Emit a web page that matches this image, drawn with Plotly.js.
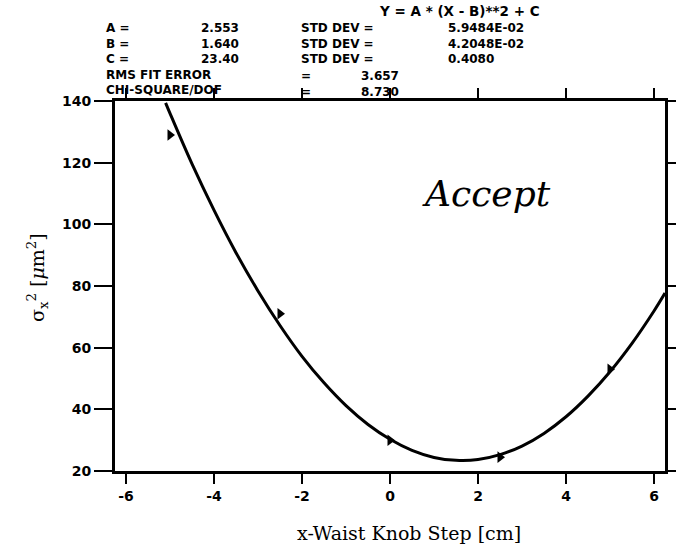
<!DOCTYPE html>
<html>
<head>
<meta charset="utf-8">
<script src="https://cdn.plot.ly/plotly-3.0.1.min.js"></script>
<style>html,body{margin:0;padding:0;background:#fff;}#chart{width:676px;height:554px;}</style>
</head>
<body>
<div id="chart"></div>
<script>
// Fit curve values
var curveX = [-5.1, -5.0, -4.5, -4.0, -3.5, -3.0, -2.5, -2.0, -1.5, -1.0, -0.5, 0.0, 0.5, 1.0, 1.5, 2.0, 2.5, 3.0, 3.5, 4.0, 4.5, 5.0, 5.5, 6.0, 6.25];
var curveY = [139.4, 136.0, 119.6, 104.6, 90.8, 78.4, 67.2, 57.2, 48.6, 41.2, 35.1, 30.3, 26.7, 24.4, 23.45, 23.7, 25.3, 28.1, 32.2, 37.6, 44.3, 52.2, 61.4, 71.9, 77.7];
// Measured points
var pointX = [-5.0, -2.5, 0.0, 2.5, 5.0];
var pointY = [129, 71, 30, 24.5, 53];
// Tick labels
var xTickVals = [-6, -4, -2, 0, 2, 4, 6];
var xTickText = ["-6", "-4", "-2", "0", "2", "4", "6"];
var yTickVals = [20, 40, 60, 80, 100, 120, 140];
var yTickText = ["20", "40", "60", "80", "100", "120", "140"];
// Header fit results
var fitNames = ["A =", "B =", "C ="];
var fitValues = ["2.553", "1.640", "23.40"];
var fitStdDevs = ["5.9484E-02", "4.2048E-02", "0.4080"];
var statNames = ["RMS FIT ERROR", "CHI-SQUARE/DOF"];
var statValues = ["3.657", "8.730"];

var L = 115, R = 665, T = 101, B = 471;
function px(x){ return (x - L) / (R - L); }
function py(y){ return (B - y) / (B - T); }
function bold(s){ return "<b>" + s + "</b>"; }

var HF = 12, LH = HF * 1.3;
var hfont = {family: "DejaVu Sans", size: HF, color: "#000"};
var ann = [];
function col(x, yTop, lines, anchor, font){
  ann.push({xref: "paper", yref: "paper", x: px(x), y: py(yTop),
    text: lines.map(bold).join("<br>"), showarrow: false, align: anchor || "left",
    xanchor: anchor || "left", yanchor: "top", font: font || hfont, borderpad: 0});
}
var top0 = 20.5;
col(378, 2, ["Y = A * (X - B)**2 + C"], "left", {family: "DejaVu Sans", size: 13.5, color: "#000"});
col(105, top0, fitNames.concat(statNames));
col(240, top0, fitValues, "right");
col(300, top0, fitNames.map(function(){ return "STD DEV ="; }));
col(447, top0, fitStdDevs);
var top1 = top0 + 3 * LH + 1;
col(300, top1, statNames.map(function(){ return "="; }));
col(360, top1, statValues);

ann.push({xref: "paper", yref: "paper", x: px(37), y: py(278), textangle: -90,
  text: "σ<sub>x</sub><sup>2</sup> [<i>μ</i>m<sup>2</sup>]", showarrow: false,
  xanchor: "center", yanchor: "middle", font: {family: "DejaVu Serif", size: 19, color: "#000"}});
ann.push({xref: "paper", yref: "paper", x: px(409), y: py(533),
  text: "x-Waist Knob Step [cm]", showarrow: false, xanchor: "center", yanchor: "middle",
  font: {family: "DejaVu Serif", size: 19, color: "#000"}});
ann.push({xref: "paper", yref: "paper", x: px(486), y: py(193),
  text: "<i>Accept</i>", showarrow: false, xanchor: "center", yanchor: "middle",
  font: {family: "DejaVu Serif", size: 36, color: "#000"}});

var traces = [
  {x: curveX, y: curveY, mode: "lines", line: {color: "#000", width: 3, shape: "spline"},
   hoverinfo: "skip"},
  {x: pointX, y: pointY, mode: "markers",
   marker: {symbol: "triangle-right", size: 10, color: "#000"}}
];

var axisCommon = {showgrid: false, zeroline: false, showline: true, linecolor: "#000",
  linewidth: 3, mirror: "ticks", ticks: "outside", tickcolor: "#000", tickwidth: 2,
  tickfont: {family: "DejaVu Sans", size: 14, color: "#000"}};

var layout = {
  width: 676, height: 554,
  margin: {l: L, r: 676 - R, t: T, b: 554 - B, pad: 0},
  paper_bgcolor: "#fff", plot_bgcolor: "#fff",
  showlegend: false,
  xaxis: Object.assign({}, axisCommon, {range: [-6.25, 6.25], tickmode: "array",
    tickvals: xTickVals, ticktext: xTickText.map(bold), ticklen: 10}),
  yaxis: Object.assign({}, axisCommon, {range: [20, 140], tickmode: "array",
    tickvals: yTickVals, ticktext: yTickText.map(bold), ticklen: 18}),
  annotations: ann
};

Plotly.newPlot("chart", traces, layout, {staticPlot: true, displayModeBar: false});
</script>
</body>
</html>
